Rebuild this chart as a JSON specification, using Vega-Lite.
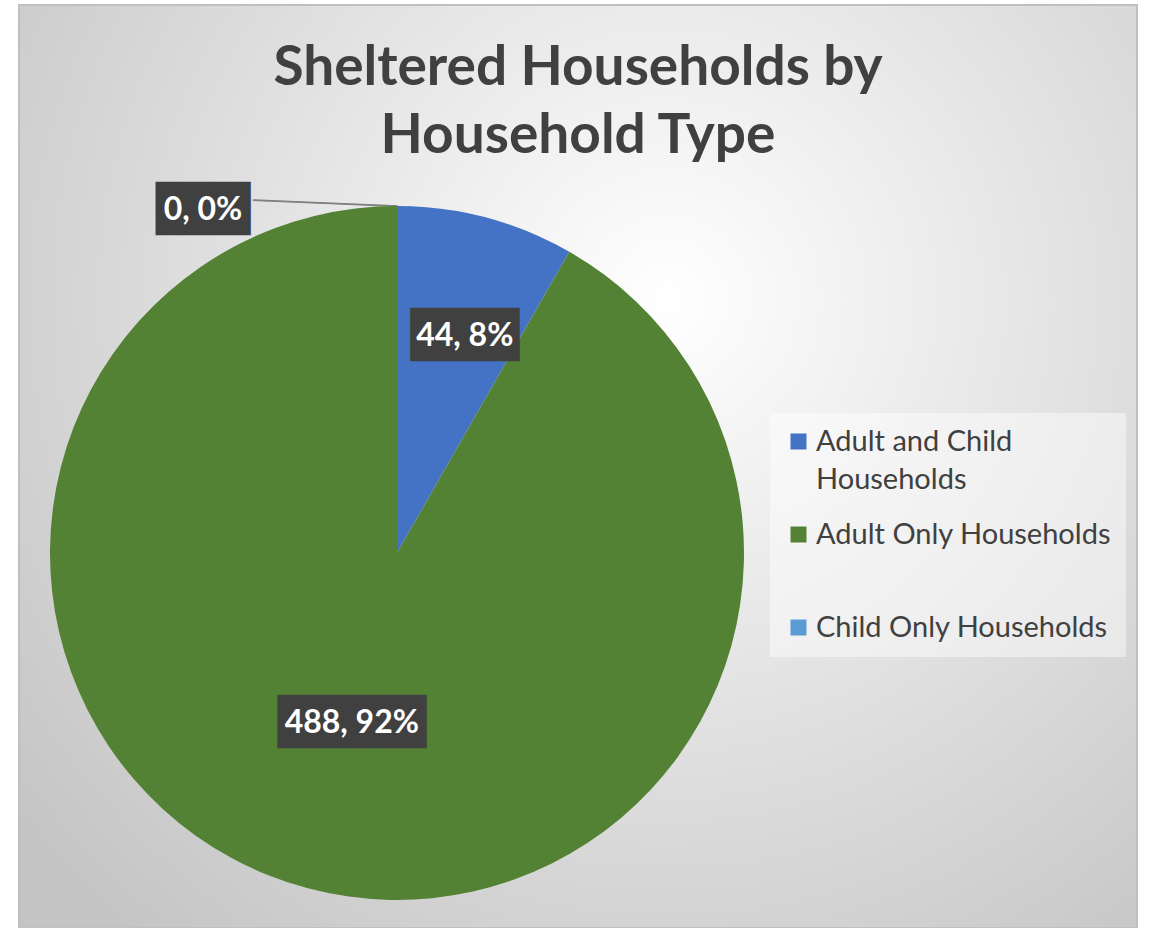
{
  "$schema": "https://vega.github.io/schema/vega-lite/v6.json",
  "width": 1118,
  "height": 923,
  "autosize": "none",
  "padding": {"left": 19, "top": 5, "right": 13, "bottom": 0},
  "background": "white",
  "title": {
    "text": ["Sheltered Households by", "Household Type"],
    "font": "Lato",
    "fontSize": 55,
    "fontWeight": "bold",
    "color": "#404040",
    "anchor": "middle",
    "frame": "group",
    "offset": -161,
    "lineHeight": 68
  },
  "config": {"view": {"stroke": null}},
  "datasets": {
    "households": [
      {"type": "Adult and Child Households", "count": 44, "label": "44, 8%"},
      {"type": "Adult Only Households", "count": 488, "label": "488, 92%"},
      {"type": "Child Only Households", "count": 0, "label": "0, 0%"}
    ],
    "frame": [{"name": "chart area"}]
  },
  "data": {"name": "households"},
  "layer": [
    {
      "data": {"name": "frame"},
      "mark": {
        "type": "rect",
        "stroke": "#c0c0c0",
        "strokeWidth": 2,
        "fill": {
          "gradient": "radial",
          "x1": 0.58, "y1": 0.35, "r1": 0,
          "x2": 0.58, "y2": 0.35, "r2": 0.75,
          "stops": [
            {"offset": 0, "color": "#ffffff"},
            {"offset": 1, "color": "#c4c4c4"}
          ]
        }
      }
    },
    {
      "mark": {"type": "text", "x": 378, "y": 548, "dx": -72, "angle": 2.4, "font": "DejaVu Sans Mono", "fontSize": 20, "baseline": "middle", "align": "center", "fill": "#808080"},
      "encoding": {
        "theta": {"field": "count", "type": "quantitative", "stack": true},
        "order": {"field": "type", "type": "nominal", "sort": "descending"},
        "radius": {"value": 346},
        "text": {"condition": {"test": "datum.type === 'Child Only Households'", "value": "────────────"}, "value": ""}
      }
    },
    {
      "mark": {"type": "arc", "outerRadius": 347, "x": 378, "y": 548},
      "encoding": {
        "theta": {"field": "count", "type": "quantitative", "stack": true},
        "order": {"field": "type", "type": "nominal", "sort": "descending"},
        "color": {
          "field": "type",
          "type": "nominal",
          "scale": {
            "domain": ["Adult and Child Households", "Adult Only Households", "Child Only Households"],
            "range": ["#4472C4", "#548235", "#5B9BD5"]
          },
          "legend": {
            "orient": "none",
            "legendX": 751,
            "legendY": 408,
            "title": null,
            "padding": 14,
            "fillColor": "rgba(255,255,255,0.45)",
            "gridAlign": "all",
            "symbolType": "square",
            "symbolSize": 256,
            "symbolStrokeWidth": 0,
            "symbolOpacity": 1,
            "labelFont": "Lato",
            "labelFontSize": 29,
            "labelColor": "#404040",
            "labelOffset": 3,
            "labelLimit": 400,
            "rowPadding": 25,
            "labelExpr": "datum.label == 'Adult and Child Households' ? ['Adult and Child', 'Households'] : datum.label",
            "encode": {"labels": {"update": {"lineHeight": {"value": 38}}}}
          }
        }
      }
    },
    {
      "mark": {"type": "text", "x": 378, "y": 548, "dx": 10, "font": "DejaVu Sans Mono", "fontSize": 45, "baseline": "middle", "align": "center", "fill": "#404040"},
      "encoding": {
        "theta": {"field": "count", "type": "quantitative", "stack": true},
        "order": {"field": "type", "type": "nominal", "sort": "descending"},
        "radius": {"value": 225},
        "text": {"condition": {"test": "datum.type === 'Adult and Child Households'", "value": "████"}, "value": ""}
      }
    },
    {
      "mark": {"type": "text", "x": 378, "y": 548, "dx": 10, "font": "Lato", "fontSize": 32, "fontWeight": "bold", "baseline": "middle", "align": "center", "fill": "white"},
      "encoding": {
        "theta": {"field": "count", "type": "quantitative", "stack": true},
        "order": {"field": "type", "type": "nominal", "sort": "descending"},
        "radius": {"value": 225},
        "text": {"condition": {"test": "datum.type === 'Adult and Child Households'", "field": "label"}, "value": ""}
      }
    },
    {
      "mark": {"type": "text", "x": 378, "y": 548, "dx": 7, "font": "DejaVu Sans Mono", "fontSize": 45, "baseline": "middle", "align": "center", "fill": "#404040"},
      "encoding": {
        "theta": {"field": "count", "type": "quantitative", "stack": true},
        "order": {"field": "type", "type": "nominal", "sort": "descending"},
        "radius": {"value": 176},
        "text": {"condition": {"test": "datum.type === 'Adult Only Households'", "value": "█████▌"}, "value": ""}
      }
    },
    {
      "mark": {"type": "text", "x": 378, "y": 548, "font": "Lato", "fontSize": 32, "fontWeight": "bold", "baseline": "middle", "align": "center", "fill": "white"},
      "encoding": {
        "theta": {"field": "count", "type": "quantitative", "stack": true},
        "order": {"field": "type", "type": "nominal", "sort": "descending"},
        "radius": {"value": 176},
        "text": {"condition": {"test": "datum.type === 'Adult Only Households'", "field": "label"}, "value": ""}
      }
    },
    {
      "mark": {"type": "text", "x": 378, "y": 548, "dx": -187, "font": "DejaVu Sans Mono", "fontSize": 45, "baseline": "middle", "align": "center", "fill": "#404040"},
      "encoding": {
        "theta": {"field": "count", "type": "quantitative", "stack": true},
        "order": {"field": "type", "type": "nominal", "sort": "descending"},
        "radius": {"value": 343},
        "text": {"condition": {"test": "datum.type === 'Child Only Households'", "value": "███▌"}, "value": ""}
      }
    },
    {
      "mark": {"type": "text", "x": 378, "y": 548, "dx": -194, "font": "Lato", "fontSize": 32, "fontWeight": "bold", "baseline": "middle", "align": "center", "fill": "white"},
      "encoding": {
        "theta": {"field": "count", "type": "quantitative", "stack": true},
        "order": {"field": "type", "type": "nominal", "sort": "descending"},
        "radius": {"value": 343},
        "text": {"condition": {"test": "datum.type === 'Child Only Households'", "field": "label"}, "value": ""}
      }
    }
  ]
}
